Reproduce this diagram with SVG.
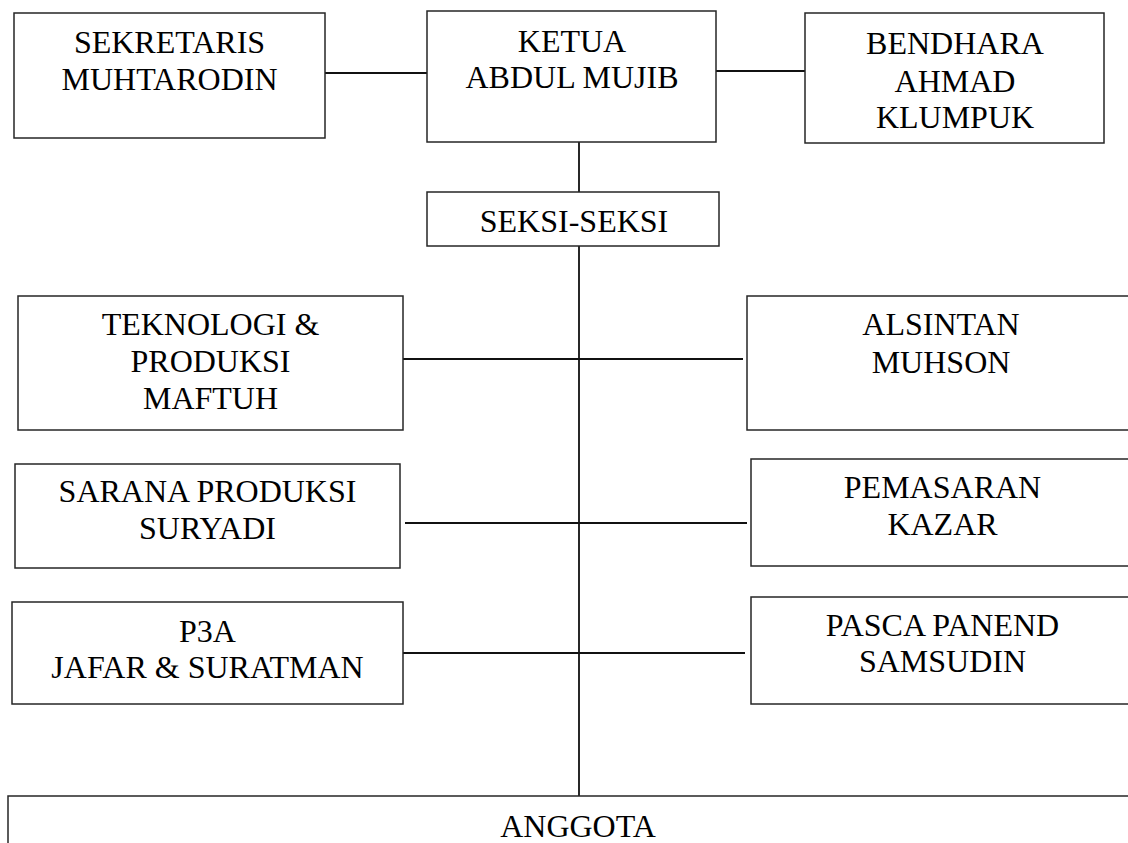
<svg xmlns="http://www.w3.org/2000/svg" width="1128" height="843" viewBox="0 0 1128 843">
<style>
.box{fill:#fff;stroke:#262626;stroke-width:1.5}
.ln{stroke:#111;stroke-width:1.8;fill:none}
.t{font-family:'Liberation Serif', 'Times New Roman', serif;font-size:32px;fill:#000;text-anchor:middle}
</style>
<rect width="1128" height="843" fill="#fff"/>
<g id="connectors">
<line class="ln" x1="325" y1="73" x2="427" y2="73"/>
<line class="ln" x1="716" y1="71" x2="805" y2="71"/>
<line class="ln" x1="579" y1="142" x2="579" y2="192"/>
<line class="ln" x1="579" y1="246" x2="579" y2="796"/>
<line class="ln" x1="400" y1="359" x2="743" y2="359"/>
<line class="ln" x1="405" y1="523" x2="747" y2="523"/>
<line class="ln" x1="403" y1="653" x2="745" y2="653"/>
</g>
<g class="t">
<g id="sekretaris">
<rect class="box" x="14" y="13" width="311" height="125"/>
<text x="169.5" y="53">SEKRETARIS</text>
<text x="169.5" y="90">MUHTARODIN</text>
</g>
<g id="ketua">
<rect class="box" x="427" y="11" width="289" height="131"/>
<text x="572" y="52">KETUA</text>
<text x="572" y="88">ABDUL MUJIB</text>
</g>
<g id="bendhara">
<rect class="box" x="805" y="13" width="299" height="130"/>
<text x="955" y="54">BENDHARA</text>
<text x="955" y="92">AHMAD</text>
<text x="955" y="128">KLUMPUK</text>
</g>
<g id="seksi">
<rect class="box" x="427" y="192" width="292" height="54"/>
<text x="574" y="232">SEKSI-SEKSI</text>
</g>
<g id="teknologi">
<rect class="box" x="18" y="296" width="385" height="134"/>
<text x="210.5" y="335">TEKNOLOGI &amp;</text>
<text x="210.5" y="372">PRODUKSI</text>
<text x="210.5" y="409">MAFTUH</text>
</g>
<g id="sarana">
<rect class="box" x="15" y="464" width="385" height="104"/>
<text x="207.5" y="502">SARANA PRODUKSI</text>
<text x="207.5" y="539">SURYADI</text>
</g>
<g id="p3a">
<rect class="box" x="12" y="602" width="391" height="102"/>
<text x="207.5" y="642">P3A</text>
<text x="207.5" y="678">JAFAR &amp; SURATMAN</text>
</g>
<g id="alsintan">
<rect class="box" x="747" y="296" width="400" height="134"/>
<text x="941" y="335">ALSINTAN</text>
<text x="941" y="373">MUHSON</text>
</g>
<g id="pemasaran">
<rect class="box" x="751" y="459" width="400" height="107"/>
<text x="942.5" y="498">PEMASARAN</text>
<text x="942.5" y="535">KAZAR</text>
</g>
<g id="pasca">
<rect class="box" x="751" y="597" width="400" height="107"/>
<text x="942.5" y="636">PASCA PANEND</text>
<text x="942.5" y="672">SAMSUDIN</text>
</g>
<g id="anggota">
<rect class="box" x="8" y="796" width="1140" height="80"/>
<text x="578" y="837">ANGGOTA</text>
</g>
</g>
</svg>
